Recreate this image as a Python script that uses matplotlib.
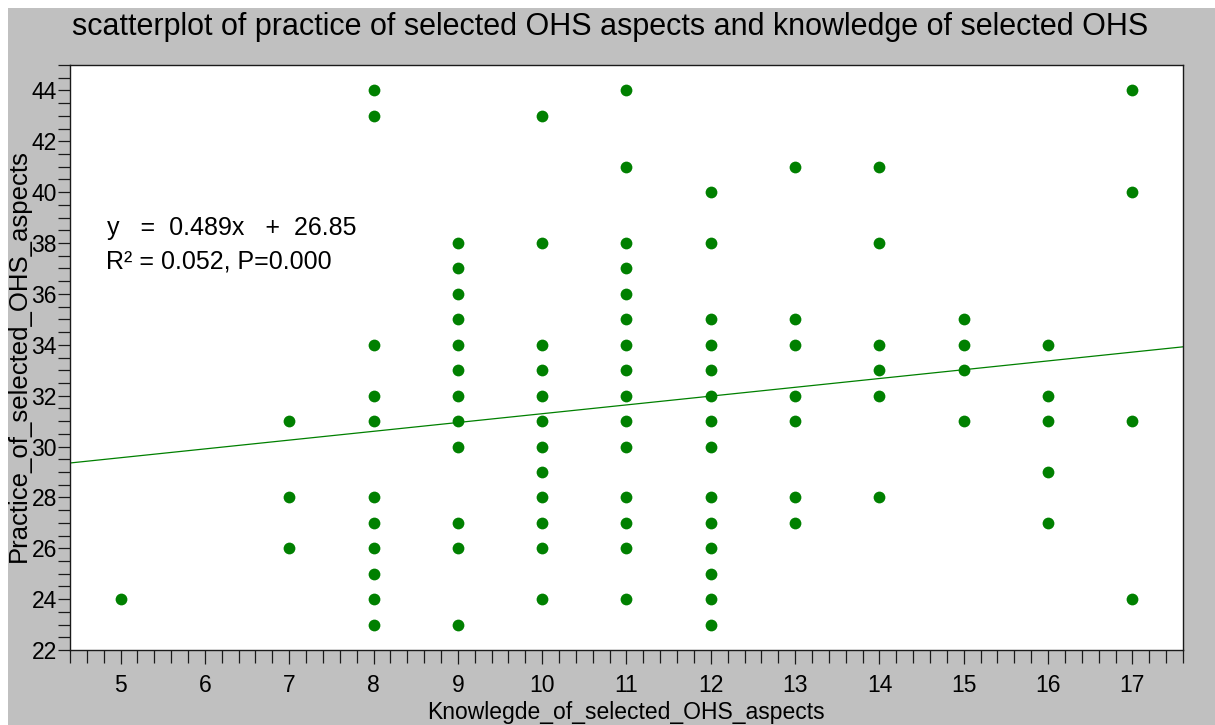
import matplotlib
matplotlib.use("Agg")
import matplotlib.pyplot as plt
from matplotlib.patches import Rectangle
from matplotlib.ticker import MultipleLocator

plt.rcParams['font.family'] = ['Liberation Sans', 'DejaVu Sans']

# knowledge score (x) and the practice scores found at each level (y)
knowledge_levels = [5, 7, 8, 9, 10, 11, 12, 13, 14, 15, 16, 17]
practice_by_level = [
    [24],
    [31, 28, 26],
    [44, 43, 34, 32, 31, 28, 27, 26, 25, 24, 23],
    [38, 37, 36, 35, 34, 33, 32, 31, 30, 27, 26, 23],
    [43, 38, 34, 33, 32, 31, 30, 29, 28, 27, 26, 24],
    [44, 41, 38, 37, 36, 35, 34, 33, 32, 31, 30, 28, 27, 26, 24],
    [40, 38, 35, 34, 33, 32, 31, 30, 28, 27, 26, 25, 24, 23],
    [41, 35, 34, 32, 31, 28, 27],
    [41, 38, 34, 33, 32, 28],
    [35, 34, 33, 31],
    [34, 32, 31, 29, 27],
    [44, 40, 31, 24],
]

# fitted line as drawn in the picture
fit_slope = 0.346
fit_intercept = 27.83

title = "scatterplot of practice of selected OHS aspects and knowledge of selected OHS"
x_label = "Knowlegde_of_selected_OHS_aspects"
y_label = "Practice_of_selected_OHS_aspects"
eq_text = "y   =  0.489x   +  26.85"
r2_text = "R\u00b2 = 0.052, P=0.000"

xs, ys = [], []
for k, vals in zip(knowledge_levels, practice_by_level):
    for v in vals:
        xs.append(k)
        ys.append(v)

W, H = 1215, 725
fig = plt.figure(figsize=(W / 100, H / 100), dpi=100, facecolor='white')
fig.patches.append(Rectangle((8 / W, 0), 1, 1 - 8 / H, transform=fig.transFigure,
                             facecolor='#c0c0c0', edgecolor='none', zorder=-10))

ax = fig.add_axes([70 / W, 1 - 650 / H, (1183 - 70) / W, (650 - 65) / H])
ax.set_facecolor('white')

ax.scatter(xs, ys, s=72, color='#008000', linewidths=0, zorder=3)

x0, x1 = 4.4, 17.6
ax.plot([x0, x1], [fit_intercept + fit_slope * x0, fit_intercept + fit_slope * x1],
        color='#008000', lw=0.9, zorder=2)

ax.set_xlim(x0, x1)
ax.set_ylim(22, 45)
ax.xaxis.set_major_locator(MultipleLocator(1))
ax.xaxis.set_minor_locator(MultipleLocator(0.2))
ax.yaxis.set_major_locator(MultipleLocator(2))
ax.yaxis.set_minor_locator(MultipleLocator(0.5))

for s in ax.spines.values():
    s.set_color('#1a1a1a')
    s.set_linewidth(1.0)

ax.tick_params(axis='x', which='major', direction='out', length=10, width=0.9,
               color='#1a1a1a', labelsize=16.5, pad=7)
ax.tick_params(axis='x', which='minor', direction='out', length=9, width=0.9, color='#1a1a1a')
ax.tick_params(axis='y', which='major', direction='out', length=9, width=0.9,
               color='#1a1a1a', labelsize=16.5, pad=0.5)
ax.tick_params(axis='y', which='minor', direction='out', length=9, width=0.9, color='#1a1a1a')

fig.text(610 / W, 1 - 35 / H, title, ha='center', va='baseline', fontsize=22)
fig.text(626 / W, 1 - 719 / H, x_label, ha='center', va='baseline', fontsize=16.5)
fig.text(19 / W, 1 - 356 / H, y_label, ha='center', va='center', rotation=90, fontsize=18.5)

fig.text(107 / W, 1 - 235 / H, eq_text, ha='left', va='baseline', fontsize=18)
fig.text(106 / W, 1 - 268 / H, r2_text, ha='left', va='baseline', fontsize=18)

fig.savefig('out.png', dpi=100, facecolor=fig.get_facecolor())
